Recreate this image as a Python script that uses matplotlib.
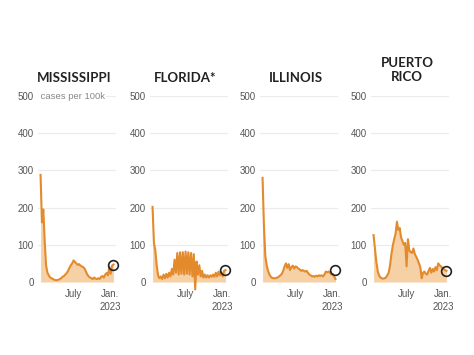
import numpy as np
import pandas as pd
import matplotlib
matplotlib.use('Agg')
import matplotlib.pyplot as plt

plt.rcParams['font.family'] = ['Liberation Sans', 'DejaVu Sans']

# weekly cases per 100k, starting Jan. 12, 2022
dates = pd.date_range('2022-01-12', periods=54, freq='7D')

mississippi = [288, 160, 195, 110, 45, 25, 18, 12, 10, 8, 6, 5, 5, 6, 8, 10, 14, 16,
               20, 24, 30, 38, 45, 50, 58, 54, 50, 46, 48, 44, 42, 40, 36, 28, 20, 15,
               12, 10, 8, 12, 9, 8, 10, 8, 14, 16, 12, 20, 24, 18, 40, 22, 44, 47]
florida = [202, 105, 85, 45, 18, 10, 15, 8, 20, 10, 22, 12, 25, 15, 35, 20, 60, 25,
           78, 20, 80, 22, 80, 20, 82, 22, 80, 20, 78, 15, 75, -20, 55, 20, 45, 15,
           30, 12, 20, 12, 18, 12, 18, 14, 20, 14, 25, 15, 28, 18, 26, 15, 30, 32]
illinois = [280, 150, 70, 45, 30, 20, 14, 11, 10, 10, 11, 12, 15, 18, 22, 30, 42, 50,
            38, 48, 32, 40, 44, 36, 42, 40, 36, 34, 30, 32, 30, 28, 30, 25, 20, 18,
            15, 16, 14, 17, 15, 18, 16, 18, 15, 20, 28, 26, 28, 25, 20, 22, 15, 8]
puerto_rico = [126, 90, 55, 30, 18, 12, 10, 9, 10, 12, 18, 25, 45, 75, 98, 115, 130, 162,
               140, 145, 120, 110, 100, 105, 42, 115, 85, 80, 78, 90, 75, 68, 60, 50, 40, 10,
               25, 28, 22, 20, 30, 38, 25, 35, 28, 40, 32, 50, 45, 42, 38, 35, 32, 30]

titles = ['MISSISSIPPI', 'FLORIDA*', 'ILLINOIS', 'PUERTO\nRICO']
series = [mississippi, florida, illinois, puerto_rico]
latest = [47, 32, 32, 30]   # circled latest average

line_color = '#e38b2c'
fill_color = '#f6d1a6'

W, H = 474, 355
fig = plt.figure(figsize=(W / 100, H / 100), dpi=100)

lefts = [38, 150, 260, 371]
title_x = [74, 185, 296, 407]
title_y = [78, 78, 78, 70]
top_px, bottom_px, width_px = 96, 282, 78

pad = pd.Timedelta(days=13)
for i in range(4):
    ax = fig.add_axes([lefts[i] / W, (H - bottom_px) / H, width_px / W, (bottom_px - top_px) / H])
    vals = np.array(series[i])
    ax.fill_between(dates, 0, np.clip(vals, 0, None), color=fill_color, lw=0, zorder=2)
    ax.plot(dates, vals, color=line_color, lw=1.5, zorder=3, clip_on=False)
    ax.plot(dates[-1], latest[i], 'o', ms=7, mfc='none', mec='#222222', mew=1.2,
            zorder=4, clip_on=False)
    ax.set_xlim(dates[0] - pad, dates[-1] + pad)
    ax.set_ylim(0, 500)
    ax.set_yticks([0, 100, 200, 300, 400, 500])
    ax.grid(axis='y', color='#ebebeb', lw=0.8, zorder=0)
    ax.set_axisbelow(True)
    for s in ax.spines.values():
        s.set_visible(False)
    ax.tick_params(length=0, labelsize=7, labelcolor='#555555')
    ax.tick_params(axis='y', pad=3)
    ax.tick_params(axis='x', pad=5)
    ax.set_xticks([pd.Timestamp('2022-07-01'), pd.Timestamp('2023-01-01')])
    ax.set_xticklabels(['July', 'Jan.\n2023'], linespacing=1.35)
    ax.patch.set_alpha(0)
    fig.text(title_x[i] / W, 1 - title_y[i] / H, titles[i], ha='center', va='center',
             fontsize=9.5, fontweight='bold', color='#222222', family='Lato',
             linespacing=1.15)
    if i == 0:
        ax.text(dates[0] - pad, 500, ' cases per 100k', fontsize=6.8, color='#888888',
                ha='left', va='center', zorder=5,
                bbox=dict(facecolor='white', edgecolor='none', pad=0.5))

fig.savefig('out.png', dpi=100)
